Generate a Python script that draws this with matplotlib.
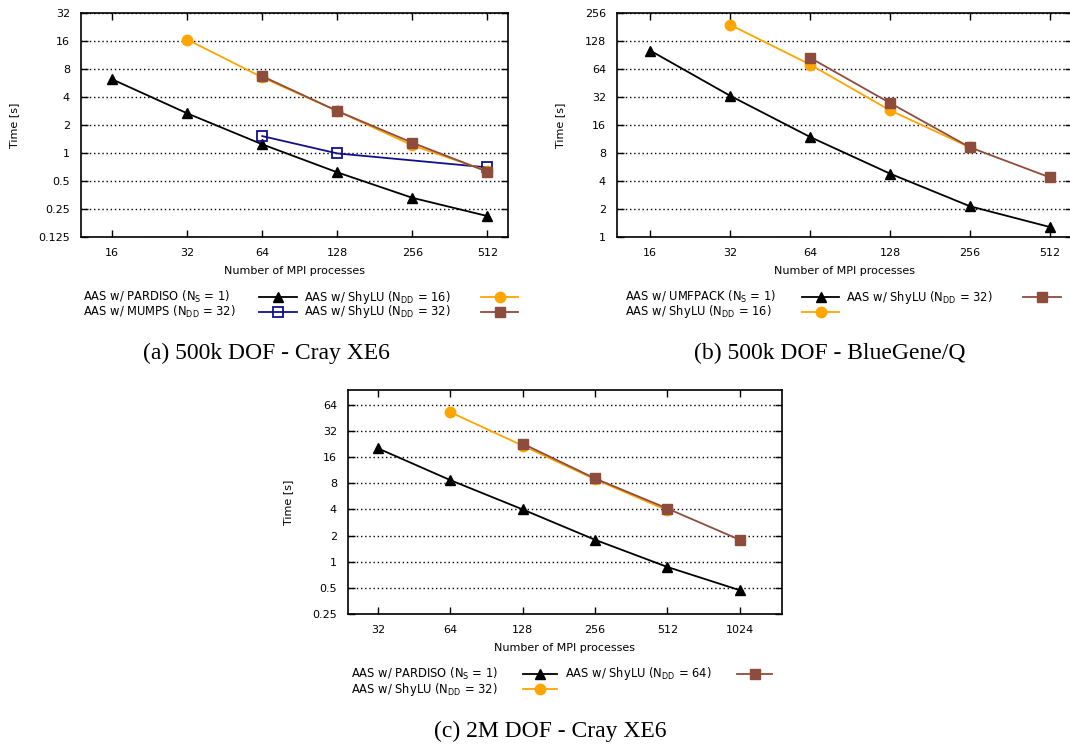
import numpy as np
import matplotlib
matplotlib.use("Agg")
import matplotlib.pyplot as plt
from matplotlib.ticker import FixedLocator, FixedFormatter, NullLocator

# --- data ---
# (a) 500k DOF - Cray XE6
procsA = [16, 32, 64, 128, 256, 512]
pardisoA = [6.2, 2.67, 1.24, 0.62, 0.33, 0.21]
mumpsA_x = [64, 128, 512]
mumpsA = [1.52, 0.99, 0.70]
shylu16A_x = [32, 64, 128, 256, 512]
shylu16A = [16.6, 6.5, 2.83, 1.21, 0.64]
shylu32A_x = [64, 128, 256, 512]
shylu32A = [6.7, 2.83, 1.29, 0.63]

# (b) 500k DOF - BlueGene/Q
procsB = [16, 32, 64, 128, 256, 512]
umfpackB = [101, 33, 11.9, 4.8, 2.14, 1.28]
shylu16B_x = [32, 64, 128, 256]
shylu16B = [191, 71.5, 23, 9.2]
shylu32B_x = [64, 128, 256, 512]
shylu32B = [84.5, 27.6, 9.2, 4.37]

# (c) 2M DOF - Cray XE6
procsC = [32, 64, 128, 256, 512, 1024]
pardisoC = [20.2, 8.7, 4.0, 1.79, 0.87, 0.47]
shylu32C_x = [64, 128, 256, 512]
shylu32C = [52.7, 21.7, 8.9, 3.9]
shylu64C_x = [128, 256, 512, 1024]
shylu64C = [22.9, 9.1, 4.1, 1.79]

yticksA = [0.125, 0.25, 0.5, 1, 2, 4, 8, 16, 32]
yticksB = [1, 2, 4, 8, 16, 32, 64, 128, 256]
yticksC = [0.25, 0.5, 1, 2, 4, 8, 16, 32, 64]

ORANGE = '#FFA500'
BROWN = '#8E4C3C'
NAVY = '#10108A'

W, H = 1070, 747
fig = plt.figure(figsize=(W / 100, H / 100), dpi=100)


def px_axes(l, t, r, b):
    return fig.add_axes([l / W, 1 - b / H, (r - l) / W, (b - t) / H])


def style(ax, xt, yt, xlim, ylim):
    ax.set_xscale('log', base=2)
    ax.set_yscale('log', base=2)
    ax.set_xlim(*xlim)
    ax.set_ylim(*ylim)
    ax.xaxis.set_major_locator(FixedLocator(xt))
    ax.xaxis.set_major_formatter(FixedFormatter([str(v) for v in xt]))
    ax.yaxis.set_major_locator(FixedLocator(yt))
    ax.yaxis.set_major_formatter(FixedFormatter([('%g' % v) for v in yt]))
    ax.xaxis.set_minor_locator(NullLocator())
    ax.yaxis.set_minor_locator(NullLocator())
    ax.tick_params(direction='in', top=True, right=True, length=5, width=1,
                   labelsize=8, pad=8, colors='black')
    ax.grid(axis='y', linestyle=(0, (1, 2)), color='black', lw=1)
    for s in ax.spines.values():
        s.set_linewidth(1.2)
    ax.set_xlabel('Number of MPI processes', fontsize=8, labelpad=6)
    ax.set_ylabel('Time [s]', fontsize=8, labelpad=14)


kw = dict(lw=1.3, ms=7.5)

# overlay in pixel coords for the gnuplot-style keys
key = fig.add_axes([0, 0, 1, 1], zorder=5)
key.set_xlim(0, W)
key.set_ylim(H, 0)
key.axis('off')


def key_entry(label, x_text, x0, x1, y, fmt, color, **extra):
    key.text(x_text, y, label, fontsize=8.3, ha='left', va='center')
    key.plot([x0, x1], [y, y], '-', color=color, lw=1.3)
    key.plot([(x0 + x1) / 2], [y], fmt, color=color, ms=7.5, **extra)


# (a)
axA = px_axes(81, 13, 508, 237)
axA.plot(procsA, pardisoA, '-^', color='black', **kw)
axA.plot(mumpsA_x, mumpsA, '-s', color=NAVY, mfc='none', mew=1.3, **kw)
axA.plot(shylu16A_x, shylu16A, '-o', color=ORANGE, **kw)
axA.plot(shylu32A_x, shylu32A, '-s', color=BROWN, **kw)
style(axA, procsA, yticksA, (12, 620), (0.125, 32))
key_entry(r'AAS w/ PARDISO (N$_\mathregular{S}$ = 1)', 83, 259, 297, 297, '^', 'black')
key_entry(r'AAS w/ MUMPS (N$_\mathregular{DD}$ = 32)', 83, 259, 297, 312, 's', NAVY,
          mfc='none', mew=1.3)
key_entry(r'AAS w/ ShyLU (N$_\mathregular{DD}$ = 16)', 304, 481, 518, 297, 'o', ORANGE)
key_entry(r'AAS w/ ShyLU (N$_\mathregular{DD}$ = 32)', 304, 481, 518, 312, 's', BROWN)

# (b)
axB = px_axes(617, 13, 1072, 237)
axB.plot(procsB, umfpackB, '-^', color='black', **kw)
axB.plot(shylu16B_x, shylu16B, '-o', color=ORANGE, **kw)
axB.plot(shylu32B_x, shylu32B, '-s', color=BROWN, **kw)
style(axB, procsB, yticksB, (12, 620), (1, 256))
key_entry(r'AAS w/ UMFPACK (N$_\mathregular{S}$ = 1)', 625, 802, 839, 297, '^', 'black')
key_entry(r'AAS w/ ShyLU (N$_\mathregular{DD}$ = 16)', 625, 802, 839, 312, 'o', ORANGE)
key_entry(r'AAS w/ ShyLU (N$_\mathregular{DD}$ = 32)', 846, 1023, 1061, 297, 's', BROWN)

# (c)
axC = px_axes(348, 390, 782, 614)
axC.plot(procsC, pardisoC, '-^', color='black', **kw)
axC.plot(shylu32C_x, shylu32C, '-o', color=ORANGE, **kw)
axC.plot(shylu64C_x, shylu64C, '-s', color=BROWN, **kw)
style(axC, procsC, yticksC, (24, 1536), (0.25, 95))
key_entry(r'AAS w/ PARDISO (N$_\mathregular{S}$ = 1)', 351, 523, 557, 674, '^', 'black')
key_entry(r'AAS w/ ShyLU (N$_\mathregular{DD}$ = 32)', 351, 523, 557, 689, 'o', ORANGE)
key_entry(r'AAS w/ ShyLU (N$_\mathregular{DD}$ = 64)', 565, 737, 772, 674, 's', BROWN)

# captions
cap = dict(fontsize=17, family='Liberation Serif', ha='center', va='center')
fig.text(266 / W, 1 - 353 / H, '(a) 500k DOF - Cray XE6', **cap)
fig.text(830 / W, 1 - 353 / H, '(b) 500k DOF - BlueGene/Q', **cap)
fig.text(550 / W, 1 - 731 / H, '(c) 2M DOF - Cray XE6', **cap)

fig.savefig('out.png', dpi=100)
